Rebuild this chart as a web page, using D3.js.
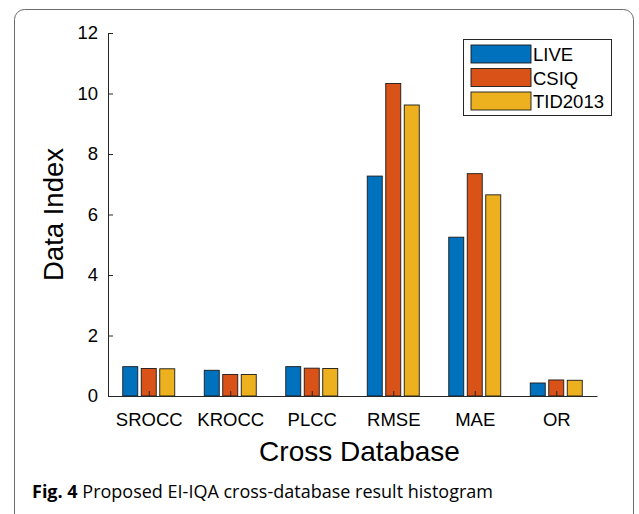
<!DOCTYPE html>
<html>
<head>
<meta charset="utf-8">
<script src="https://cdn.jsdelivr.net/npm/d3@7"></script>
<style>
body { margin: 0; background: #fff; }
</style>
</head>
<body>
<div id="main"></div>
<script>
// chart data
var categories = ["SROCC", "KROCC", "PLCC", "RMSE", "MAE", "OR"];
var seriesNames = ["LIVE", "CSIQ", "TID2013"];
var live = [0.97, 0.85, 0.97, 7.27, 5.25, 0.43];
var csiq = [0.91, 0.71, 0.92, 10.33, 7.35, 0.53];
var tid = [0.90, 0.71, 0.91, 9.62, 6.65, 0.52];
var yTicks = [0, 2, 4, 6, 8, 10, 12];
var colors = ["#0072BD", "#D95319", "#EDB120"];

var width = 639, height = 514;
var font = "'Liberation Sans', Arial, sans-serif";
var values = [live, csiq, tid];

var svg = d3.select("#main").append("svg")
    .attr("width", width)
    .attr("height", height);

// rounded frame
svg.append("rect")
    .attr("x", 14.5).attr("y", 9.5)
    .attr("width", 619).attr("height", 540)
    .attr("rx", 10).attr("ry", 10)
    .attr("fill", "none")
    .attr("stroke", "#6b6b6b")
    .attr("stroke-width", 1);

var x0 = 108, x1 = 597, yTop = 33, yBot = 396;

var x = d3.scaleLinear().domain([0.5, 6.5]).range([x0, x1]);
var y = d3.scaleLinear().domain([0, 12]).range([yBot, yTop]);

var barW = 15, barStep = 18.5;

// bars
for (var s = 0; s < 3; s++) {
    svg.append("g").selectAll("rect")
        .data(values[s])
        .enter().append("rect")
        .attr("x", function(d, i) { return x(i + 1) + (s - 1) * barStep - barW / 2; })
        .attr("y", function(d) { return y(d); })
        .attr("width", barW)
        .attr("height", function(d) { return y(0) - y(d); })
        .attr("fill", colors[s])
        .attr("stroke", "#1a1a1a")
        .attr("stroke-width", 0.9);
}

// y axis
var yAxis = svg.append("g")
    .attr("transform", "translate(" + x0 + ",0)")
    .call(d3.axisLeft(y).tickValues(yTicks).tickSizeInner(-5).tickSizeOuter(0).tickPadding(10));
yAxis.select(".domain").attr("stroke", "#262626");
yAxis.selectAll(".tick line").attr("stroke", "#262626");
yAxis.selectAll("text").attr("font-family", font).attr("font-size", 18.5).attr("fill", "#000");

// x axis
var xAxis = svg.append("g")
    .attr("transform", "translate(0," + yBot + ")")
    .call(d3.axisBottom(x).tickValues([1, 2, 3, 4, 5, 6])
        .tickFormat(function(d) { return categories[d - 1]; })
        .tickSizeInner(-5).tickSizeOuter(0).tickPadding(17));
xAxis.select(".domain").attr("stroke", "#262626");
xAxis.selectAll(".tick line").attr("stroke", "#262626");
xAxis.selectAll("text").attr("font-family", font).attr("font-size", 18.5).attr("fill", "#000");

// axis titles
svg.append("text")
    .text("Data Index")
    .attr("font-family", font)
    .attr("font-size", 27.5)
    .attr("text-anchor", "middle")
    .attr("transform", "translate(63," + ((yTop + yBot) / 2) + ") rotate(-90)");

svg.append("text")
    .text("Cross Database")
    .attr("font-family", font)
    .attr("font-size", 28)
    .attr("text-anchor", "middle")
    .attr("x", (x0 + x1) / 2 + 7)
    .attr("y", 461);

// legend
var legend = svg.append("g");
legend.append("rect")
    .attr("x", 463.5).attr("y", 39.5)
    .attr("width", 148).attr("height", 76)
    .attr("fill", "#fff")
    .attr("stroke", "#262626")
    .attr("stroke-width", 1);
seriesNames.forEach(function(name, i) {
    legend.append("rect")
        .attr("x", 471).attr("y", 45 + i * 23.5)
        .attr("width", 60).attr("height", 18)
        .attr("fill", colors[i])
        .attr("stroke", "#1a1a1a")
        .attr("stroke-width", 0.9);
    legend.append("text")
        .text(name)
        .attr("font-family", font)
        .attr("font-size", 18.5)
        .attr("x", 533)
        .attr("y", 61 + i * 23.5);
});

// caption
var cap = svg.append("text")
    .attr("x", 32).attr("y", 498)
    .attr("font-family", "'Open Sans', 'Noto Sans', sans-serif")
    .attr("font-size", 18);
cap.append("tspan").attr("font-weight", "bold").text("Fig. 4");
cap.append("tspan").text(" Proposed EI-IQA cross-database result histogram");
</script>
</body>
</html>
